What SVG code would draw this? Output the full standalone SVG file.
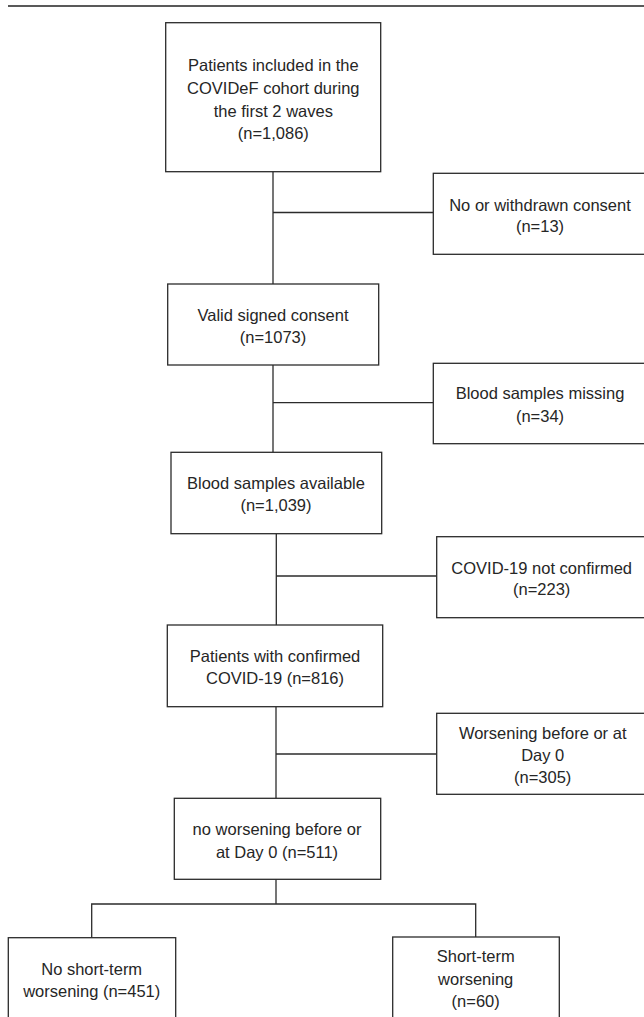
<svg xmlns="http://www.w3.org/2000/svg" width="644" height="1017" viewBox="0 0 644 1017">
<style>
.box{fill:#ffffff;stroke:#2b2b2b;stroke-width:1.3}
.ln{fill:none;stroke:#2b2b2b;stroke-width:1.3}
text{font-family:"Liberation Sans",Arial,sans-serif;font-size:16.5px;fill:#262626;text-anchor:middle}
</style>
<rect width="644" height="1017" fill="#ffffff"/>
<line x1="8" y1="6" x2="644" y2="6" stroke="#222222" stroke-width="1.6"/>
<g id="connectors">
<path class="ln" d="M273 171.7V284"/>
<path class="ln" d="M273 212.5H433.3"/>
<path class="ln" d="M273 365V452.3"/>
<path class="ln" d="M273 402.7H433.3"/>
<path class="ln" d="M276.3 533.7V625"/>
<path class="ln" d="M276.3 576H436.7"/>
<path class="ln" d="M276 706.7V798.3"/>
<path class="ln" d="M276 754H436.7"/>
<path class="ln" d="M276 879.3V904"/>
<path class="ln" d="M91.7 937.7V904H475.7V937"/>
</g>
<g id="n1">
<rect class="box" x="165.7" y="22.7" width="215" height="149"/>
<text x="273.3" y="71">Patients included in the</text>
<text x="273.3" y="94">COVIDeF cohort during</text>
<text x="273.3" y="116.5">the first 2 waves</text>
<text x="273.3" y="139">(n=1,086)</text>
</g>
<g id="n2">
<rect class="box" x="433.3" y="173.3" width="220" height="81"/>
<text x="540" y="211">No or withdrawn consent</text>
<text x="540" y="232">(n=13)</text>
</g>
<g id="n3">
<rect class="box" x="167.7" y="284" width="211" height="81"/>
<text x="273" y="321">Valid signed consent</text>
<text x="273" y="343">(n=1073)</text>
</g>
<g id="n4">
<rect class="box" x="433.3" y="363.3" width="220" height="80.4"/>
<text x="540" y="399">Blood samples missing</text>
<text x="540" y="422">(n=34)</text>
</g>
<g id="n5">
<rect class="box" x="171" y="452.3" width="210.7" height="81.4"/>
<text x="276" y="488.7">Blood samples available</text>
<text x="276" y="511">(n=1,039)</text>
</g>
<g id="n6">
<rect class="box" x="436.7" y="536.7" width="220" height="81"/>
<text x="541.7" y="573.7">COVID-19 not confirmed</text>
<text x="541.7" y="595.3">(n=223)</text>
</g>
<g id="n7">
<rect class="box" x="167.3" y="625" width="215.4" height="81.7"/>
<text x="275" y="661.7">Patients with confirmed</text>
<text x="275" y="684.3">COVID-19 (n=816)</text>
</g>
<g id="n8">
<rect class="box" x="436.7" y="713.3" width="220" height="81"/>
<text x="542.7" y="738.7">Worsening before or at</text>
<text x="542.7" y="761">Day 0</text>
<text x="542.7" y="782.7">(n=305)</text>
</g>
<g id="n9">
<rect class="box" x="174.3" y="798.3" width="206.4" height="81"/>
<text x="277" y="835.3">no worsening before or</text>
<text x="277" y="857.7">at Day 0 (n=511)</text>
</g>
<g id="n10">
<rect class="box" x="8.3" y="937.7" width="167.4" height="100"/>
<text x="91.7" y="975">No short-term</text>
<text x="91.7" y="997">worsening (n=451)</text>
</g>
<g id="n11">
<rect class="box" x="392.7" y="937" width="166.6" height="100"/>
<text x="475.7" y="962">Short-term</text>
<text x="475.7" y="985">worsening</text>
<text x="475.7" y="1006.7">(n=60)</text>
</g>
</svg>
